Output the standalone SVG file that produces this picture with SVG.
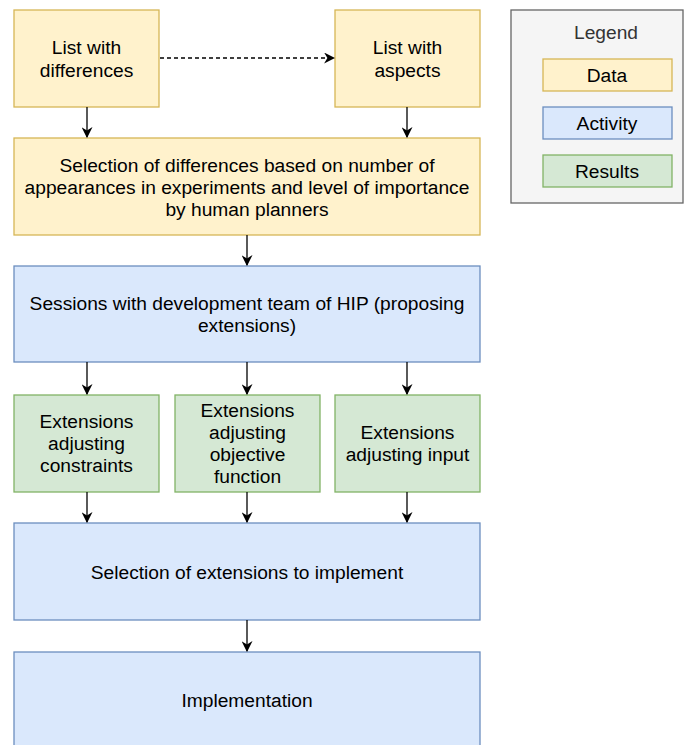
<svg xmlns="http://www.w3.org/2000/svg" width="692" height="745" viewBox="0 0 692 745">
<style>
text{font-family:"Liberation Sans",Arial,sans-serif;font-size:19.2px;fill:#000;text-anchor:middle;dominant-baseline:central}
.d{fill:#fff2cc;stroke:#d6b656;stroke-width:1.3}
.a{fill:#dae8fc;stroke:#6c8ebf;stroke-width:1.3}
.r{fill:#d5e8d4;stroke:#82b366;stroke-width:1.3}
.c line{stroke:#000;stroke-width:1.3}
</style>
<defs>
<marker id="ah" viewBox="0 0 10 10" refX="9" refY="5" markerWidth="11" markerHeight="11" markerUnits="userSpaceOnUse" orient="auto">
<path d="M0,0 L10,5 L0,10 L3,5 Z" fill="#000"/>
</marker>
</defs>
<rect width="692" height="745" fill="#fff"/>
<g id="legend">
<rect x="511" y="10" width="172" height="193" fill="#f5f5f5" stroke="#666" stroke-width="1.3"/>
<text x="606" y="32" style="fill:#333">Legend</text>
<rect class="d" x="543" y="59" width="129" height="32"/><text x="607" y="75">Data</text>
<rect class="a" x="543" y="107" width="129" height="32"/><text x="607" y="123">Activity</text>
<rect class="r" x="543" y="155" width="129" height="32"/><text x="607" y="171">Results</text>
</g>
<g id="list-differences">
<rect class="d" x="14" y="10" width="145" height="97"/>
<text x="86.5" y="47">List with</text><text x="86.5" y="70">differences</text>
</g>
<g id="list-aspects">
<rect class="d" x="335" y="10" width="145" height="97"/>
<text x="407.5" y="47">List with</text><text x="407.5" y="70">aspects</text>
</g>
<g id="selection-differences">
<rect class="d" x="14" y="138" width="466" height="97"/>
<text x="247" y="165">Selection of differences based on number of</text>
<text x="247" y="187">appearances in experiments and level of importance</text>
<text x="247" y="209">by human planners</text>
</g>
<g id="sessions">
<rect class="a" x="14" y="266" width="466" height="96"/>
<text x="247" y="303">Sessions with development team of HIP (proposing</text>
<text x="247" y="325">extensions)</text>
</g>
<g id="ext-constraints">
<rect class="r" x="14" y="395" width="145" height="97"/>
<text x="86.5" y="421">Extensions</text><text x="86.5" y="443">adjusting</text><text x="86.5" y="465">constraints</text>
</g>
<g id="ext-objective">
<rect class="r" x="175" y="395" width="145" height="97"/>
<text x="247.5" y="410">Extensions</text><text x="247.5" y="432">adjusting</text><text x="247.5" y="454">objective</text><text x="247.5" y="476">function</text>
</g>
<g id="ext-input">
<rect class="r" x="335" y="395" width="145" height="97"/>
<text x="407.5" y="432">Extensions</text><text x="407.5" y="454">adjusting input</text>
</g>
<g id="selection-extensions">
<rect class="a" x="14" y="523" width="466" height="97"/>
<text x="247" y="572">Selection of extensions to implement</text>
</g>
<g id="implementation">
<rect class="a" x="14" y="652" width="466" height="100"/>
<text x="247" y="700">Implementation</text>
</g>
<g class="c" id="connectors">
<line x1="160" y1="58" x2="334" y2="58" stroke-dasharray="4 3" marker-end="url(#ah)"/>
<line x1="87" y1="107" x2="87" y2="137" marker-end="url(#ah)"/>
<line x1="407" y1="107" x2="407" y2="137" marker-end="url(#ah)"/>
<line x1="247" y1="235" x2="247" y2="265" marker-end="url(#ah)"/>
<line x1="87" y1="362" x2="87" y2="394" marker-end="url(#ah)"/>
<line x1="247" y1="362" x2="247" y2="394" marker-end="url(#ah)"/>
<line x1="407" y1="362" x2="407" y2="394" marker-end="url(#ah)"/>
<line x1="87" y1="492" x2="87" y2="522" marker-end="url(#ah)"/>
<line x1="247" y1="492" x2="247" y2="522" marker-end="url(#ah)"/>
<line x1="407" y1="492" x2="407" y2="522" marker-end="url(#ah)"/>
<line x1="247" y1="620" x2="247" y2="651" marker-end="url(#ah)"/>
</g>
</svg>
